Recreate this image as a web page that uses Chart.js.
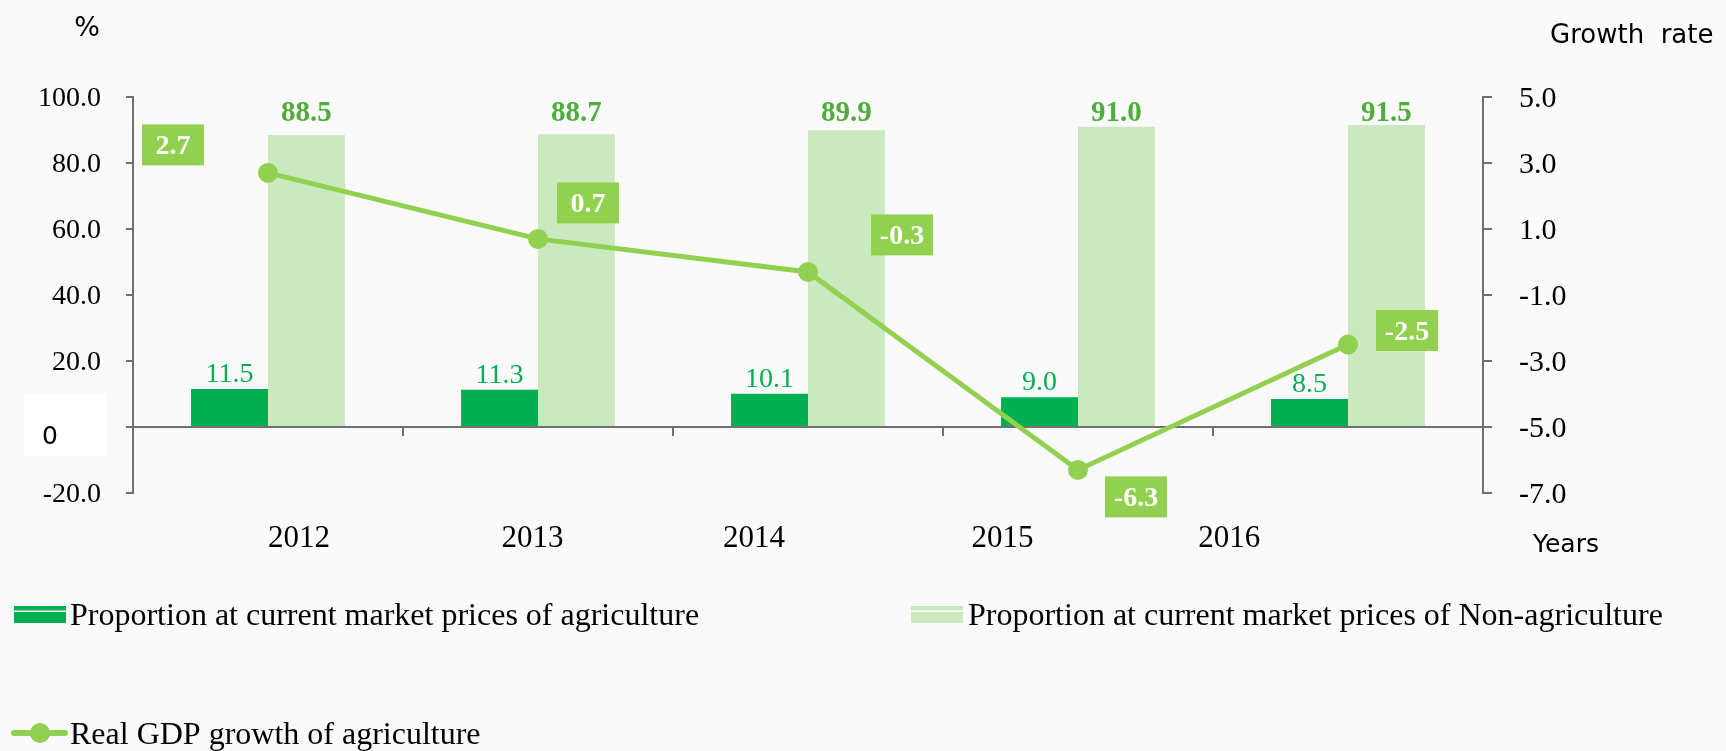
<!DOCTYPE html>
<html>
<head>
<meta charset="utf-8">
<script src="https://cdn.jsdelivr.net/npm/chart.js@4.4.1/dist/chart.umd.min.js"></script>
<style>
html, body { margin: 0; padding: 0; background: #fafafa; }
#wrap { position: relative; width: 1726px; height: 751px; }
</style>
</head>
<body>
<div id="wrap"><canvas id="c"></canvas></div>
<script>
// ---- data ----
const years = ['2012', '2013', '2014', '2015', '2016'];
const agriShare = [11.5, 11.3, 10.1, 9.0, 8.5];
const nonAgriShare = [88.5, 88.7, 89.9, 91.0, 91.5];
const agriGrowth = [2.7, 0.7, -0.3, -6.3, -2.5];
const leftTicks = [-20, 0, 20, 40, 60, 80, 100];
const rightTicks = [-7, -5, -3, -1, 1, 3, 5];
const seriesNames = [
  'Proportion at current market prices of agriculture',
  'Proportion at current market prices of Non-agriculture',
  'Real GDP growth of agriculture'
];

// ---- layout / style (not data) ----
const yearLabelPos = [0.115, 0.98, 1.80, 2.72, 3.56];          // where the year labels sit along the category index
const growthLabelOffsets = [[-95, -28], [50, -36], [94, -37], [58, 27], [59, -14]];
const C_DARK = '#00b050', C_LIGHT = '#cbe9bf', C_LINE = '#92d050', C_LIGHT_TXT = '#4fae3b', C_AXIS = '#707070';
const SERIF = '"Liberation Serif", "Times New Roman", serif';
const SANS = '"DejaVu Sans", sans-serif';

const decoPlugin = {
  id: 'deco',
  afterDatasetsDraw(chart) {
    const ctx = chart.ctx;
    const area = chart.chartArea;
    const mLine = chart.getDatasetMeta(0);
    const mDark = chart.getDatasetMeta(1);
    const mLight = chart.getDatasetMeta(2);
    ctx.save();
    ctx.textAlign = 'center';
    ctx.textBaseline = 'alphabetic';
    // bar value labels
    ctx.font = '28px ' + SERIF;
    ctx.fillStyle = C_DARK;
    mDark.data.forEach((b, i) => ctx.fillText(agriShare[i].toFixed(1), b.x, b.y - 7));
    ctx.font = 'bold 29px ' + SERIF;
    ctx.fillStyle = C_LIGHT_TXT;
    mLight.data.forEach((b, i) => ctx.fillText(nonAgriShare[i].toFixed(1), b.x, area.top + 24));
    // growth labels
    ctx.textBaseline = 'middle';
    mLine.data.forEach((p, i) => {
      const cx = p.x + growthLabelOffsets[i][0];
      const cy = p.y + growthLabelOffsets[i][1];
      ctx.fillStyle = C_LINE;
      ctx.fillRect(cx - 31, cy - 20.5, 62, 41);
      ctx.fillStyle = '#ffffff';
      ctx.font = 'bold 28px ' + SERIF;
      ctx.fillText(agriGrowth[i].toFixed(1), cx, cy + 2);
    });
    ctx.restore();
  },
  afterDraw(chart) {
    const ctx = chart.ctx;
    const yS = chart.scales.y;
    const zeroY = yS.getPixelForValue(0);
    ctx.save();
    // "0" box on the left axis
    ctx.fillStyle = '#ffffff';
    ctx.fillRect(24, zeroY - 34, 83, 63);
    ctx.fillStyle = '#000';
    ctx.font = '25px ' + SANS;
    ctx.textAlign = 'center';
    ctx.textBaseline = 'middle';
    ctx.fillText('0', 50, zeroY + 10);
    // axis titles
    ctx.font = '27px ' + SANS;
    ctx.fillText('%', 87, 29);
    ctx.textAlign = 'left';
    ctx.font = '26px ' + SANS;
    ctx.fillText('Growth  rate', 1550, 36);
    ctx.font = '25px ' + SANS;
    ctx.fillText('Years', 1533, 545);
    // legend
    const ds = chart.data.datasets;
    ctx.font = '32px ' + SERIF;
    ctx.textBaseline = 'middle';
    // item 1
    ctx.fillStyle = ds[1].backgroundColor;
    ctx.fillRect(14, 606, 52, 17);
    ctx.fillStyle = '#ffffff';
    ctx.fillRect(14, 610.5, 52, 1.5);
    ctx.fillStyle = '#000';
    ctx.fillText(ds[1].label, 70, 617);
    // item 2
    ctx.fillStyle = ds[2].backgroundColor;
    ctx.fillRect(911, 606, 52, 17);
    ctx.fillStyle = '#ffffff';
    ctx.fillRect(911, 610.5, 52, 1.5);
    ctx.fillStyle = '#000';
    ctx.fillText(ds[2].label, 968, 617);
    // item 3
    ctx.strokeStyle = ds[0].borderColor;
    ctx.lineWidth = 6;
    ctx.lineCap = 'round';
    ctx.beginPath(); ctx.moveTo(14, 733); ctx.lineTo(65, 733); ctx.stroke();
    ctx.fillStyle = ds[0].backgroundColor;
    ctx.beginPath(); ctx.arc(40, 733, 10, 0, Math.PI * 2); ctx.fill();
    ctx.fillStyle = '#000';
    ctx.fillText(ds[0].label, 70, 736);
    ctx.restore();
  }
};

new Chart(document.getElementById('c'), {
  data: {
    labels: years,
    datasets: [
      {
        type: 'line', label: seriesNames[2], data: agriGrowth, yAxisID: 'y1', xAxisID: 'x', order: 0,
        borderColor: C_LINE, backgroundColor: C_LINE, borderWidth: 5,
        pointRadius: 10, pointHoverRadius: 10, pointBackgroundColor: C_LINE, pointBorderColor: C_LINE, pointBorderWidth: 0,
        tension: 0
      },
      {
        type: 'bar', label: seriesNames[0], data: agriShare, yAxisID: 'y', xAxisID: 'x', order: 1,
        backgroundColor: C_DARK, borderWidth: 0, categoryPercentage: 0.57, barPercentage: 1.0
      },
      {
        type: 'bar', label: seriesNames[1], data: nonAgriShare, yAxisID: 'y', xAxisID: 'x', order: 2,
        backgroundColor: C_LIGHT, borderWidth: 0, categoryPercentage: 0.57, barPercentage: 1.0
      }
    ]
  },
  options: {
    responsive: true,
    maintainAspectRatio: false,
    animation: false,
    events: [],
    layout: { padding: { top: 97, left: 0, right: 0, bottom: 0 } },
    plugins: { legend: { display: false }, tooltip: { enabled: false } },
    scales: {
      x: {
        type: 'category',
        position: { y: 0 },
        offset: true,
        grid: { offset: true, drawOnChartArea: false, drawTicks: true, tickLength: 8, color: C_AXIS, lineWidth: 2 },
        border: { display: true, color: C_AXIS, width: 2 },
        ticks: { display: false }
      },
      xl: {
        type: 'linear',
        position: 'bottom',
        min: -0.5, max: 4.5,
        grid: { display: false, drawTicks: false },
        border: { display: false },
        afterBuildTicks: (s) => { s.ticks = yearLabelPos.map(v => ({ value: v })); },
        afterFit: (s) => { s.height = 258; s.paddingLeft = 0; s.paddingRight = 0; },
        ticks: {
          autoSkip: false, maxRotation: 0, padding: 27,
          font: { family: SERIF, size: 31 }, color: '#000',
          callback: (v, i) => years[i]
        }
      },
      y: {
        type: 'linear', position: 'left',
        min: -20, max: 100,
        afterBuildTicks: (s) => { s.ticks = leftTicks.map(v => ({ value: v })); },
        afterFit: (s) => { s.width = 133; s.paddingTop = 0; s.paddingBottom = 0; },
        grid: { drawOnChartArea: false, drawTicks: true, tickLength: 7, color: C_AXIS, lineWidth: 2 },
        border: { display: true, color: C_AXIS, width: 2 },
        ticks: {
          padding: 25, labelOffset: 2, font: { family: SERIF, size: 28 }, color: '#000',
          callback: (v) => v === 0 ? '' : Number(v).toFixed(1)
        }
      },
      y1: {
        type: 'linear', position: 'right',
        min: -7, max: 5,
        afterBuildTicks: (s) => { s.ticks = rightTicks.map(v => ({ value: v })); },
        afterFit: (s) => { s.width = 243; s.paddingTop = 0; s.paddingBottom = 0; },
        grid: { drawOnChartArea: false, drawTicks: true, tickLength: 9, color: C_AXIS, lineWidth: 2 },
        border: { display: true, color: C_AXIS, width: 2 },
        ticks: {
          padding: 27, labelOffset: 2, font: { family: SERIF, size: 30 }, color: '#000',
          callback: (v) => Number(v).toFixed(1)
        }
      }
    }
  },
  plugins: [decoPlugin]
});
</script>
</body>
</html>
